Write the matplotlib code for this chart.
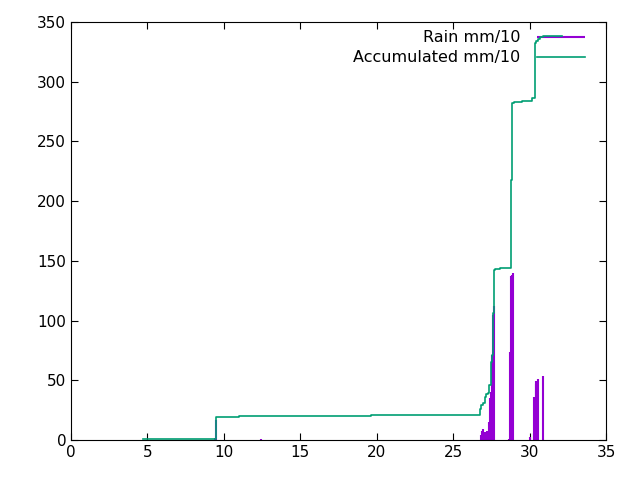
import matplotlib
matplotlib.use("Agg")
import matplotlib.pyplot as plt

# rain impulses (day, mm/10)
rain_x = [9.40, 9.46, 12.45,
          26.82, 26.88, 26.98, 27.04, 27.11, 27.24, 27.37, 27.44, 27.50,
          27.57, 27.63, 27.70,
          28.68, 28.75, 28.81, 28.88, 28.94,
          30.06, 30.26, 30.32, 30.39, 30.45, 30.58, 30.85]
rain_y = [2, 16.7, 1,
          4, 7.5, 9, 3, 6.5, 7.5, 15, 35, 40,
          71, 105, 112,
          1, 74, 137, 138, 140,
          2.8, 6, 36, 47, 49.7, 51, 53.6]

# accumulated (step) curve
acc_x = [4.72, 9.48, 11.0, 19.63, 26.77, 26.85, 26.94, 27.07, 27.18, 27.26,
         27.37, 27.50, 27.56, 27.62, 27.66, 27.77, 28.05, 28.80, 28.86,
         28.97, 29.52, 30.14, 30.34, 30.45, 30.56, 30.71, 30.85, 32.09]
acc_y = [1, 19, 20, 21, 25.7, 29.3, 30.7, 36.3, 38.5, 39.6,
         46, 65.6, 71, 106, 142.4, 143.2, 143.8, 218, 282,
         283.3, 284, 286, 332.5, 334, 336, 337.3, 338, 338]

purple = "#9400d3"
green = "#009e73"

fig = plt.figure(figsize=(6.4, 4.8), dpi=100)
ax = fig.add_axes([71/640, 40/480, 535/640, 418/480])

ax.vlines(rain_x, 0, rain_y, color=purple, lw=1.5, label="Rain mm/10")
ax.plot(acc_x, acc_y, color=green, lw=1.2, drawstyle="steps-post",
        label="Accumulated mm/10")

ax.set_xlim(0, 35)
ax.set_ylim(0, 350)
ax.set_xticks(range(0, 36, 5))
ax.set_yticks(range(0, 351, 50))
ax.tick_params(direction="in", top=True, right=True, length=5, labelsize=11)

leg = ax.legend(loc="upper right", frameon=False, markerfirst=False,
                fontsize=11.5, handlelength=3.0, handletextpad=1.0,
                borderaxespad=0, bbox_to_anchor=(1 - 15/535, 1 - 2/418),
                labelspacing=0.3)
leg.set_zorder(1)

fig.savefig("out.png", dpi=100)
